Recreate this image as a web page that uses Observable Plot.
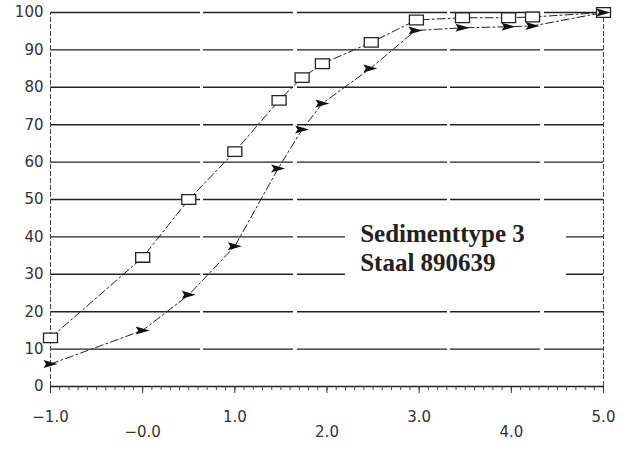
<!DOCTYPE html>
<html>
<head>
<meta charset="utf-8">
<script src="https://cdn.jsdelivr.net/npm/d3@7"></script>
<script src="https://cdn.jsdelivr.net/npm/@observablehq/plot@0.6"></script>
<style>
  html, body { margin: 0; padding: 0; background: white; }
</style>
</head>
<body>
<div id="chart"></div>
<script>
// Series: open rectangles (upper curve)
const squareX = [-1.0, 0.0, 0.5, 1.0, 1.48, 1.73, 1.95, 2.48, 2.97, 3.47, 3.97, 4.23, 5.0];
const squareY = [13, 34.5, 50, 62.8, 76.5, 82.6, 86.3, 92, 98, 98.6, 98.6, 98.8, 100];
// Series: filled triangles (lower curve)
const triX = [-1.0, 0.0, 0.5, 1.0, 1.47, 1.73, 1.95, 2.47, 2.96, 3.47, 3.97, 4.23, 5.0];
const triY = [6, 15, 24.5, 37.5, 58.3, 68.7, 75.7, 85, 95.2, 95.9, 96.2, 96.4, 100];
// Axis ticks and labels
const yTicks = [0, 10, 20, 30, 40, 50, 60, 70, 80, 90, 100];
const yTickLabels = ["0", "10", "20", "30", "40", "50", "60", "70", "80", "90", "100"];
const xTicks = [-1, 0, 1, 2, 3, 4, 5];
const xTickLabels = ["\u22121.0", "\u22120.0", "1.0", "2.0", "3.0", "4.0", "5.0"];
// Annotation text
const labelLines = ["Sedimenttype 3", "Staal 890639"];

const squares = squareX.map((x, i) => ({x, y: squareY[i]}));
const tris = triX.map((x, i) => ({x, y: triY[i]}));
const fmtX = d => xTickLabels[xTicks.indexOf(d)];
const fmtY = d => yTickLabels[yTicks.indexOf(d)];
const oddTicks = xTicks.filter((d, i) => i % 2 === 0);
const evenTicks = xTicks.filter((d, i) => i % 2 === 1);
const minorTicks = d3.range(-10, 51).map(k => k / 10);

const rectSymbol = {
  draw(ctx) {
    const w = 7, h = 4.8;
    ctx.moveTo(-w, -h); ctx.lineTo(w, -h); ctx.lineTo(w, h); ctx.lineTo(-w, h); ctx.closePath();
  }
};
const triSymbol = {
  draw(ctx) {
    ctx.moveTo(-7, -4); ctx.lineTo(7, 0); ctx.lineTo(-7, 4); ctx.lineTo(-4.5, 0); ctx.closePath();
  }
};

const chart = Plot.plot({
  width: 625,
  height: 450,
  marginLeft: 50,
  marginRight: 22,
  marginTop: 12,
  marginBottom: 64,
  x: {domain: [-1, 5]},
  y: {domain: [0, 100]},
  style: {fontFamily: "'DejaVu Sans', sans-serif", fontSize: "15px", color: "#333", background: "white"},
  marks: [
    Plot.ruleY(yTicks.filter(d => d > 0), {stroke: "#222", strokeWidth: 1.4, strokeDasharray: "150,3,90,4"}),
    Plot.rect([0], {x1: 2.2, x2: 4.6, y1: 28.5, y2: 44.5, fill: "white"}),
    Plot.ruleX([-1, 5], {y1: 0, y2: 100, stroke: "#444", strokeWidth: 1, strokeDasharray: "5,2"}),
    Plot.ruleY([0], {stroke: "#222", strokeWidth: 1.4}),
    Plot.axisX(minorTicks, {tickSize: 4, tickFormat: () => "", stroke: "#444", label: null}),
    Plot.axisX(oddTicks, {tickSize: 7, tickPadding: 18, tickFormat: fmtX, fill: "#333", label: null}),
    Plot.axisX(evenTicks, {tickSize: 7, tickPadding: 33, tickFormat: fmtX, fill: "#333", label: null}),
    Plot.axisY(yTicks, {tickSize: 0, tickPadding: 7, tickFormat: fmtY, fill: "#333", label: null}),
    Plot.line(squares, {x: "x", y: "y", stroke: "#222", strokeWidth: 1, strokeDasharray: "8,3,2,3"}),
    Plot.line(tris, {x: "x", y: "y", stroke: "#222", strokeWidth: 1, strokeDasharray: "8,3,2,3"}),
    Plot.dot(squares, {x: "x", y: "y", symbol: rectSymbol, fill: "white", stroke: "#222", strokeWidth: 1.3}),
    Plot.dot(tris, {x: "x", y: "y", symbol: triSymbol, fill: "#111", stroke: "none"}),
    Plot.text(labelLines, {
      x: 2.36,
      y: (d, i) => [40.9, 33.0][i],
      text: d => d,
      textAnchor: "start",
      fontFamily: "'Liberation Serif', serif",
      fontWeight: "bold",
      fontSize: 25,
      fill: "#222"
    })
  ]
});
document.getElementById("chart").append(chart);
</script>
</body>
</html>
